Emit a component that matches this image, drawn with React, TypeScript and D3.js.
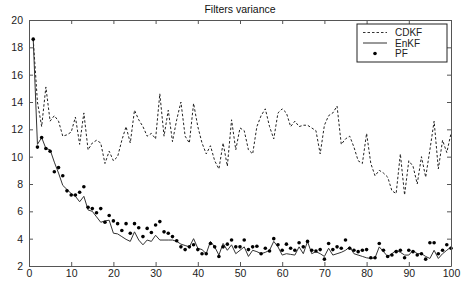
import React, { useEffect, useRef } from "react";
import * as d3 from "d3";

// step index 1..100
const steps = d3.range(1, 101);

const cdkf = [
  18.6, 14.0, 12.2, 15.1, 12.6, 13.0, 12.6, 11.5, 11.6, 11.8,
  12.9, 10.9, 13.2, 10.5, 11.0, 11.2, 11.0, 9.5, 10.4, 9.7,
  10.0, 11.2, 12.2, 11.0, 13.4, 12.7, 12.2, 11.5, 11.7, 11.3,
  14.6, 11.5, 13.4, 11.1, 12.7, 14.0, 11.5, 11.0, 13.9, 12.2,
  11.0, 10.2, 10.8, 9.7, 9.1, 11.0, 9.3, 12.7, 10.5, 12.1,
  11.9, 10.5, 10.2, 12.2, 13.0, 13.5, 12.2, 11.3, 13.2, 13.5,
  13.2, 12.2, 12.6, 12.2, 12.3, 12.3, 12.1, 11.9, 10.2, 12.3,
  13.0, 13.2, 13.7, 10.9, 11.3, 11.5, 10.7, 9.7, 9.5, 11.7,
  9.5, 8.6, 9.0, 8.8, 8.5, 7.5, 7.3, 10.2, 7.2, 9.7,
  9.3, 8.0, 10.0, 8.5, 10.5, 12.6, 9.1, 11.2, 10.3, 11.7,
];

const enkf = [
  18.6, 10.9, 11.4, 10.6, 10.5, 9.6, 8.8, 7.9, 7.6, 7.3,
  7.1, 6.7, 7.1, 6.1, 6.0, 5.6, 5.2, 5.3, 5.35, 4.4,
  4.35, 4.15, 3.95, 3.8, 4.5, 3.9, 3.55, 3.9, 3.8, 4.25,
  3.9, 3.9, 3.9, 3.9, 3.8, 3.6, 3.5, 3.4, 4.0, 3.3,
  3.2, 2.9, 3.8, 3.4, 2.8, 3.65, 3.15, 3.55, 2.9, 3.15,
  3.4, 2.7, 3.15, 3.05, 2.9, 3.0, 3.15, 3.8, 3.4, 2.8,
  2.9, 2.85, 2.8, 3.4, 2.9, 3.8, 2.9, 3.05, 2.9, 2.7,
  3.3, 2.8, 2.9, 3.0, 3.15, 3.4, 2.9, 2.8, 2.7, 2.6,
  2.55, 2.6, 3.4, 3.05, 2.7, 2.9, 3.15, 3.0, 2.8, 2.8,
  3.15, 2.9, 2.9, 2.7, 2.55, 3.15, 2.55, 2.9, 3.15, 3.4,
];

const pf = [
  18.6, 10.7, 11.4, 10.6, 10.4, 8.9, 9.2, 8.6, 7.5, 7.2,
  7.2, 7.4, 7.8, 6.3, 6.2, 5.9, 6.2, 5.2, 5.7, 5.3,
  5.1, 4.6, 5.1, 4.4, 5.1, 4.8, 4.15, 4.75, 4.45, 5.0,
  5.25, 4.5, 4.4, 4.15, 3.85, 3.4, 3.2, 3.4, 3.55, 3.2,
  2.9, 2.9, 3.65, 3.4, 2.7, 3.4, 3.6, 3.9, 3.4, 3.4,
  3.9, 3.2, 3.4, 3.45, 2.9, 3.3, 3.1, 4.0, 3.55, 3.15,
  3.6, 3.3, 3.15, 3.7, 3.4, 3.8, 3.15, 3.1, 3.2, 2.5,
  3.65, 3.2, 3.4, 3.3, 3.9, 3.3, 3.15, 3.05, 3.15, 3.2,
  2.6, 2.6, 3.65, 3.15, 2.7, 2.8, 3.05, 3.15, 2.6, 3.15,
  3.05, 2.8, 2.9, 2.5, 3.7, 3.7, 2.9, 3.15, 3.55, 3.3,
];

const xTicks = [0, 10, 20, 30, 40, 50, 60, 70, 80, 90, 100];
const yTicks = [2, 4, 6, 8, 10, 12, 14, 16, 18, 20];
const legendNames = ["CDKF", "EnKF", "PF"];

const W = 462;
const H = 287;
const FONT = "'Liberation Sans', Arial, sans-serif";

export default function App() {
  const ref = useRef<SVGSVGElement>(null);

  useEffect(() => {
    const svg = d3.select(ref.current);
    svg.selectAll("*").remove();

    const left = 29, right = 451, top = 20, bottom = 266;

    const x = d3.scaleLinear().domain([0, 100]).range([left, right]);
    const y = d3.scaleLinear().domain([2, 20]).range([bottom, top]);

    svg.append("rect").attr("width", W).attr("height", H).attr("fill", "#fff");

    // title
    svg
      .append("text")
      .attr("x", (left + right) / 2)
      .attr("y", 13)
      .attr("text-anchor", "middle")
      .attr("font-family", FONT)
      .attr("font-size", 10.5)
      .attr("fill", "#111")
      .text("Filters variance");

    const line = d3
      .line<number>()
      .x((d, i) => x(steps[i]))
      .y((d) => y(d));

    svg
      .append("path")
      .attr("d", line(cdkf))
      .attr("fill", "none")
      .attr("stroke", "#222")
      .attr("stroke-width", 1)
      .attr("stroke-dasharray", "2.5,2");

    svg
      .append("path")
      .attr("d", line(enkf))
      .attr("fill", "none")
      .attr("stroke", "#333")
      .attr("stroke-width", 1);

    svg
      .append("g")
      .selectAll("circle")
      .data(pf)
      .enter()
      .append("circle")
      .attr("cx", (d, i) => x(steps[i]))
      .attr("cy", (d) => y(d))
      .attr("r", 1.8)
      .attr("fill", "#000");

    // axes, matlab style box with inward ticks
    const styleAxis = (g: any) => {
      g.select(".domain").attr("stroke", "#555");
      g.selectAll(".tick line").attr("stroke", "#555");
      g.selectAll("text")
        .attr("font-family", FONT)
        .attr("font-size", 10.5)
        .attr("fill", "#222");
    };

    svg
      .append("g")
      .attr("transform", `translate(0,${bottom})`)
      .call(d3.axisBottom(x).tickValues(xTicks).tickSizeInner(-4).tickSizeOuter(0).tickPadding(4))
      .call(styleAxis);

    svg
      .append("g")
      .attr("transform", `translate(${left},0)`)
      .call(d3.axisLeft(y).tickValues(yTicks).tickSizeInner(-4).tickSizeOuter(0).tickPadding(6))
      .call(styleAxis);

    svg
      .append("g")
      .attr("transform", `translate(0,${top})`)
      .call(d3.axisTop(x).tickValues(xTicks).tickSizeInner(-4).tickSizeOuter(0).tickFormat(() => ""))
      .call(styleAxis);

    svg
      .append("g")
      .attr("transform", `translate(${right},0)`)
      .call(d3.axisRight(y).tickValues(yTicks).tickSizeInner(-4).tickSizeOuter(0).tickFormat(() => ""))
      .call(styleAxis);

    // legend
    const lg = svg.append("g").attr("transform", "translate(357,24)");
    lg.append("rect")
      .attr("width", 90)
      .attr("height", 38)
      .attr("fill", "#fff")
      .attr("stroke", "#222");

    legendNames.forEach((name, i) => {
      const ly = 8.5 + i * 10.5;
      if (i < 2) {
        lg.append("line")
          .attr("x1", 6)
          .attr("x2", 30)
          .attr("y1", ly)
          .attr("y2", ly)
          .attr("stroke", "#333")
          .attr("stroke-dasharray", i === 0 ? "2.5,2" : null);
      } else {
        lg.append("circle").attr("cx", 18).attr("cy", ly).attr("r", 1.8).attr("fill", "#000");
      }
      lg.append("text")
        .attr("x", 38)
        .attr("y", ly + 3.5)
        .attr("font-family", FONT)
        .attr("font-size", 10)
        .attr("fill", "#222")
        .text(name);
    });
  }, []);

  return (
    <svg
      ref={ref}
      width={W}
      height={H}
      style={{ position: "absolute", left: 0, top: 0, display: "block" }}
    />
  );
}
